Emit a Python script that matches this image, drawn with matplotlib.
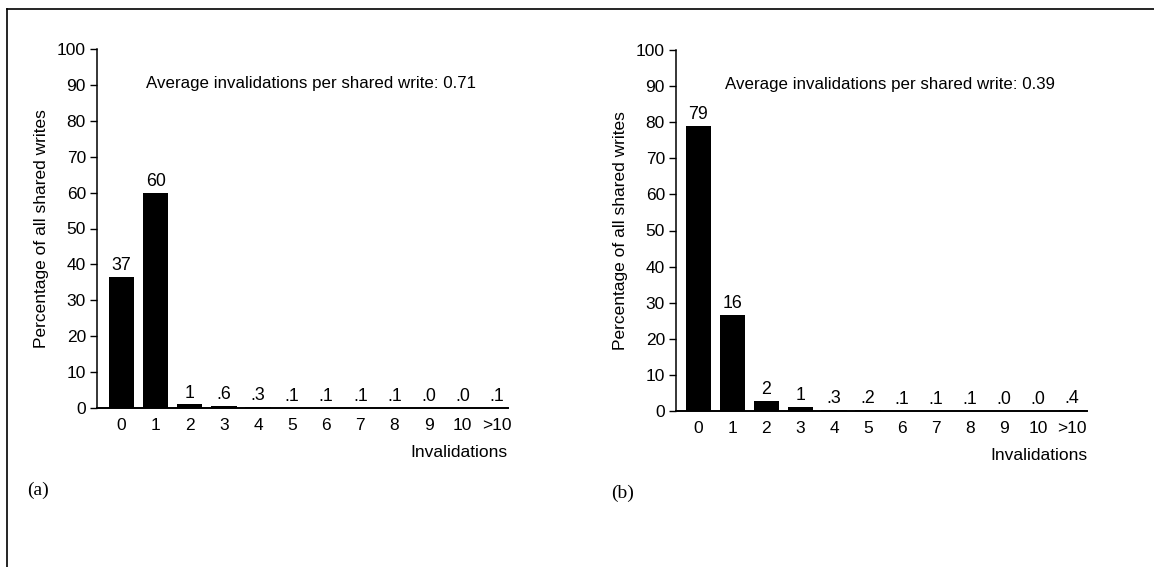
import matplotlib
matplotlib.use("Agg")
import matplotlib.pyplot as plt
from matplotlib.lines import Line2D

plt.rcParams['font.family'] = ['Liberation Sans', 'DejaVu Sans']

# categories on the x axis
categories = ['0', '1', '2', '3', '4', '5', '6', '7', '8', '9', '10', '>10']

# panel (a): drawn bar heights and printed labels
heights_a = [36.5, 60, 1, 0.6, 0.3, 0.1, 0.1, 0.1, 0.1, 0, 0, 0.1]
labels_a = ['37', '60', '1', '.6', '.3', '.1', '.1', '.1', '.1', '.0', '.0', '.1']
avg_a = '0.71'

# panel (b)
heights_b = [79, 26.5, 2.7, 1.2, 0.3, 0.2, 0.1, 0.1, 0.1, 0, 0, 0.4]
labels_b = ['79', '16', '2', '1', '.3', '.2', '.1', '.1', '.1', '.0', '.0', '.4']
avg_b = '0.39'

yticks = list(range(0, 101, 10))

fig = plt.figure(figsize=(11.54, 5.67), dpi=100)

# outer frame (only left and top edges visible in the scan)
fig.add_artist(Line2D([7 / 1154, 7 / 1154], [0, 1 - 9 / 567],
                      color='black', lw=1.2, transform=fig.transFigure))
fig.add_artist(Line2D([7 / 1154, 1], [1 - 9 / 567, 1 - 9 / 567],
                      color='black', lw=1.2, transform=fig.transFigure))


def panel(rect, heights, labels, avg, xlim, tag, tag_xy):
    ax = fig.add_axes(rect)
    x = list(range(len(categories)))
    ax.bar(x, heights, width=0.74, color='black')
    for xi, h, lab in zip(x, heights, labels):
        ax.text(xi, h + 0.8, lab, ha='center', va='bottom', fontsize=12.8)
    ax.set_xlim(*xlim)
    ax.set_ylim(0, 100)
    ax.set_yticks(yticks)
    ax.set_xticks(x)
    ax.set_xticklabels(categories)
    ax.tick_params(axis='x', length=0, pad=7, labelsize=12.5)
    ax.tick_params(axis='y', direction='out', length=5, width=1, pad=3, labelsize=12.5)
    for s in ('top', 'right'):
        ax.spines[s].set_visible(False)
    ax.spines['left'].set_linewidth(1.1)
    ax.spines['bottom'].set_linewidth(1.4)
    ax.set_ylabel('Percentage of all shared writes', fontsize=12.5, labelpad=6)
    ax.text(0.12, 0.905, 'Average invalidations per shared write: ' + avg,
            transform=ax.transAxes, ha='left', va='center', fontsize=12.2)
    ax.text(1.0, -0.123, 'Invalidations', transform=ax.transAxes,
            ha='right', va='center', fontsize=12.5)
    fig.text(tag_xy[0], tag_xy[1], tag, family='Liberation Serif',
             fontsize=14, ha='left', va='center')
    return ax


panel([97 / 1154, 1 - 408 / 567, 411 / 1154, 359 / 567],
      heights_a, labels_a, avg_a, (-0.72, 11.33), '(a)', (27 / 1154, 1 - 490 / 567))
panel([676 / 1154, 1 - 411 / 567, 411 / 1154, 361 / 567],
      heights_b, labels_b, avg_b, (-0.65, 11.44), '(b)', (611 / 1154, 1 - 493 / 567))

fig.savefig('out.png', dpi=100)
